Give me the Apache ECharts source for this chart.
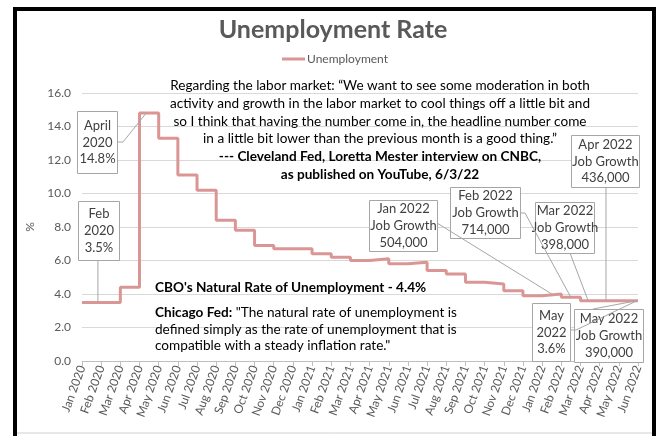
<!DOCTYPE html>
<html><head><meta charset="utf-8">
<script src="https://cdn.jsdelivr.net/npm/echarts@6/dist/echarts.min.js"></script>
<style>html,body{margin:0;padding:0;background:#fff}#c{width:666px;height:436px}</style>
</head><body><div id="c"></div>
<script>
const months = ['Jan 2020','Feb 2020','Mar 2020','Apr 2020','May 2020','Jun 2020','Jul 2020','Aug 2020','Sep 2020','Oct 2020','Nov 2020','Dec 2020',
  'Jan 2021','Feb 2021','Mar 2021','Apr 2021','May 2021','Jun 2021','Jul 2021','Aug 2021','Sep 2021','Oct 2021','Nov 2021','Dec 2021',
  'Jan 2022','Feb 2022','Mar 2022','Apr 2022','May 2022','Jun 2022'];
const unemployment = [3.5,3.5,4.4,14.8,13.3,11.1,10.2,8.4,7.8,6.9,6.7,6.7,
  6.4,6.2,6.0,6.1,5.8,5.9,5.4,5.2,4.7,4.6,4.2,3.9,
  4.0,3.8,3.6,3.6,3.6,3.6];
const yMin = 0, yMax = 16, yStep = 2;

const quoteLines = [
  'Regarding the labor market: \u201cWe want to see some moderation in both',
  'activity and growth in the labor market to cool things off a little bit and',
  'so I think that having the number come in, the headline number come',
  'in a little bit lower than the previous month is a good thing.\u201d'
];
const quoteSource = ['--- Cleveland Fed, Loretta Mester interview on CNBC,', 'as published on YouTube, 6/3/22'];
const cboText = "CBO's Natural Rate of Unemployment - 4.4%";
const chicagoLead = 'Chicago Fed:';
const chicagoLines = [' "The natural rate of unemployment is', 'defined simply as the rate of unemployment that is', 'compatible with a steady inflation rate."'];

// annotation labels: text, month index, position within month segment
const annLabels = [
  ['April','2020','14.8%'],
  ['Feb','2020','3.5%'],
  ['Jan 2022','Job Growth','504,000'],
  ['Feb 2022','Job Growth','714,000'],
  ['Mar 2022','Job Growth','398,000'],
  ['Apr 2022','Job Growth','436,000'],
  ['May','2022','3.6%'],
  ['May 2022','Job Growth','390,000']
];
const annMonth = [3, 0, 24, 25, 26, 27, 28, 28];
const annFrac = [0.35, 0.83, 0.5, 0.5, 0.4, 0.33, 0.95, 0.95];
// layout (pixels)
const annBox = [[77,111,40,62],[78,201,41,59],[369,200,68,51],[450,187,70,51],[535,202,59,51],[571,135,68,52],[532,303,38,58],[574,309,69,53]];
const annStart = [[[117,142],[123,142]], [['v',260]], [[437,223]], [[520,213],[525,213]], [[570,253]], [['v',187]], [[570,330],[576,330]], [[593,309]]];

const FONT = 'Lato, "Open Sans", sans-serif';
const chart = echarts.init(document.getElementById('c'));
chart.setOption({
  backgroundColor: '#fff',
  animation: false,
  title: {text: 'Unemployment Rate', left: 'center', top: 12,
    textStyle: {fontFamily: FONT, fontWeight: 'bold', fontSize: 25, color: '#595959'}},
  legend: {data: ['Unemployment'], left: 282, top: 53, padding: 0, icon: 'rect', itemWidth: 23, itemHeight: 3, itemGap: 10,
    textStyle: {fontFamily: FONT, fontSize: 12, color: '#595959', padding: [0,0,0,-3]}},
  grid: {left: 82, right: 28, top: 93, bottom: 75},
  xAxis: {type: 'category', data: months, boundaryGap: false,
    axisLine: {lineStyle: {color: '#BFBFBF'}},
    axisTick: {show: true, length: 5, lineStyle: {color: '#BFBFBF'}},
    axisLabel: {rotate: 70, interval: 0, margin: 5, fontFamily: FONT, fontSize: 12, color: '#595959'}},
  yAxis: {type: 'value', min: yMin, max: yMax, interval: yStep, name: '%', nameLocation: 'middle', nameGap: 42,
    nameTextStyle: {fontFamily: FONT, fontSize: 12, color: '#595959'},
    axisLine: {show: false}, axisTick: {show: false},
    axisLabel: {formatter: v => v.toFixed(1), margin: 11, fontFamily: FONT, fontSize: 12, color: '#595959'},
    splitLine: {lineStyle: {color: '#D9D9D9'}}},
  series: [{name: 'Unemployment', type: 'line', step: 'end', data: unemployment, showSymbol: false,
    lineStyle: {color: '#D99694', width: 3}, itemStyle: {color: '#D99694'}}]
});

function segPoint(i, f, v) {
  const a = chart.convertToPixel({gridIndex: 0}, [i, v]);
  const b = chart.convertToPixel({gridIndex: 0}, [i + 1, v]);
  return [a[0] + f * (b[0] - a[0]), a[1]];
}

const QF = '13.6px ' + FONT, QB = 'bold 13.6px ' + FONT;
const g = [];
// outer frame
g.push({type: 'rect', shape: {x: 15, y: 9, width: 639, height: 440}, style: {fill: 'none', stroke: '#000', lineWidth: 4}, z: 100});
g.push({type: 'line', shape: {x1: 17, y1: 433, x2: 652, y2: 433}, style: {stroke: '#D0D0D0', lineWidth: 1}, z: 101});

// quote
quoteLines.forEach((t, k) => g.push({type: 'text', x: 380, y: 86 + k * 17.7,
  style: {text: t, fill: '#000', font: QF, align: 'center', verticalAlign: 'middle'}, z: 50}));
quoteSource.forEach((t, k) => g.push({type: 'text', x: 380, y: 157 + k * 18,
  style: {text: t, fill: '#000', font: QB, align: 'center', verticalAlign: 'middle'}, z: 50}));
g.push({type: 'text', x: 155, y: 288, style: {text: cboText, fill: '#000', font: QB, verticalAlign: 'middle'}, z: 50});
g.push({type: 'text', x: 155, y: 313, style: {text: '{b|' + chicagoLead + '}{n|' + chicagoLines[0] + '}', verticalAlign: 'middle',
  rich: {b: {font: QB, fill: '#000'}, n: {font: QF, fill: '#000'}}}, z: 50});
chicagoLines.slice(1).forEach((t, k) => g.push({type: 'text', x: 155, y: 329.5 + k * 16.5,
  style: {text: t, fill: '#000', font: QF, verticalAlign: 'middle'}, z: 50}));

// annotation boxes + leaders
annLabels.forEach((lines, k) => {
  const [bx, by, bw, bh] = annBox[k];
  g.push({type: 'rect', shape: {x: bx + 0.5, y: by + 0.5, width: bw, height: bh}, style: {fill: '#fff', stroke: '#A6A6A6', lineWidth: 1}, z: 60});
  g.push({type: 'text', x: bx + bw / 2 + 0.5, y: by + bh / 2 + 0.5,
    style: {text: lines.join('\n'), font: '13px ' + FONT, fill: '#404040', align: 'center', verticalAlign: 'middle', lineHeight: 16.8}, z: 61});
  const end = segPoint(annMonth[k], annFrac[k], unemployment[annMonth[k]]);
  let pts;
  if (annStart[k][0][0] === 'v') pts = [[end[0], annStart[k][0][1]], end];
  else pts = annStart[k].concat([end]);
  g.push({type: 'polyline', shape: {points: pts}, style: {stroke: '#A6A6A6', lineWidth: 1, fill: 'none'}, z: 62});
});
chart.setOption({graphic: g});
</script></body></html>
